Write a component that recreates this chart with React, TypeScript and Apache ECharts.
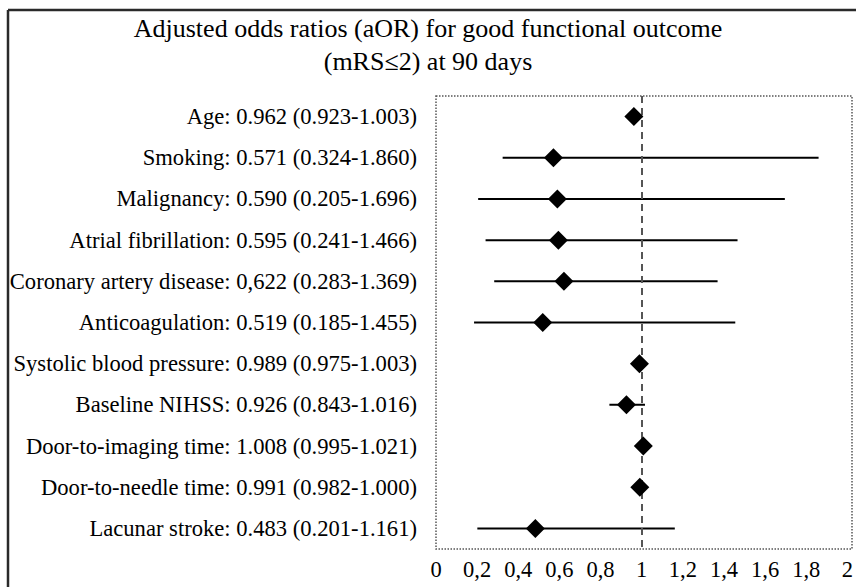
import React, { useEffect, useRef } from "react";
import * as echarts from "echarts";

const labels = [
  "Age: 0.962 (0.923-1.003)",
  "Smoking: 0.571 (0.324-1.860)",
  "Malignancy: 0.590 (0.205-1.696)",
  "Atrial fibrillation: 0.595 (0.241-1.466)",
  "Coronary artery disease: 0,622 (0.283-1.369)",
  "Anticoagulation: 0.519 (0.185-1.455)",
  "Systolic blood pressure: 0.989 (0.975-1.003)",
  "Baseline NIHSS: 0.926 (0.843-1.016)",
  "Door-to-imaging time: 1.008 (0.995-1.021)",
  "Door-to-needle time: 0.991 (0.982-1.000)",
  "Lacunar stroke: 0.483 (0.201-1.161)",
];
const oddsRatio = [0.962, 0.571, 0.59, 0.595, 0.622, 0.519, 0.989, 0.926, 1.008, 0.991, 0.483];
const lower = [0.923, 0.324, 0.205, 0.241, 0.283, 0.185, 0.975, 0.843, 0.995, 0.982, 0.201];
const upper = [1.003, 1.86, 1.696, 1.466, 1.369, 1.455, 1.003, 1.016, 1.021, 1.0, 1.161];
const xTicks = { min: 0, max: 2, interval: 0.2 };
const titleText = "Adjusted odds ratios (aOR) for good functional outcome\n(mRS\u22642) at 90 days";

const FONT = "Liberation Serif";

export default function App() {
  const ref = useRef<HTMLDivElement>(null);
  useEffect(() => {
    if (!ref.current) return;
    const chart = echarts.init(ref.current, undefined, { renderer: "svg" });
    const gridLeft = 436;
    const gridTop = 96;
    const gridRight = 4;
    const gridBottom = 38;
    const W = 856;
    const H = 587;
    chart.setOption({
      animation: false,
      backgroundColor: "#fff",
      textStyle: { fontFamily: FONT },
      title: {
        text: titleText,
        left: "center",
        top: 12,
        padding: 0,
        textStyle: {
          fontFamily: FONT,
          fontSize: 26,
          fontWeight: "normal",
          color: "#000",
          lineHeight: 33,
        },
      },
      grid: { left: gridLeft, top: gridTop, right: gridRight, bottom: gridBottom },
      xAxis: {
        type: "value",
        min: xTicks.min,
        max: xTicks.max,
        interval: xTicks.interval,
        axisLine: { show: false },
        axisTick: { show: false },
        splitLine: { show: false },
        axisLabel: {
          fontFamily: FONT,
          fontSize: 22.5,
          color: "#000",
          margin: 9,
          showMaxLabel: true,
          showMinLabel: true,
          formatter: (v: number) => String(Math.round(v * 10) / 10).replace(".", ","),
        },
      },
      yAxis: {
        type: "category",
        data: labels,
        inverse: true,
        axisLine: { show: false },
        axisTick: { show: false },
        splitLine: { show: false },
        axisLabel: {
          fontFamily: FONT,
          fontSize: 22.6,
          color: "#000",
          margin: 19,
        },
      },
      graphic: [
        {
          type: "rect",
          shape: { x: gridLeft, y: gridTop, width: W - gridLeft - gridRight, height: H - gridTop - gridBottom },
          style: { fill: "none", stroke: "#555", lineWidth: 1.5, lineDash: [1.5, 1.5] },
          silent: true,
          z: 1,
        },
        {
          type: "line",
          shape: { x1: 8, y1: 10, x2: 860, y2: 10 },
          style: { stroke: "#2a2a2a", lineWidth: 2.5 },
          silent: true,
        },
        {
          type: "line",
          shape: { x1: 8, y1: 10, x2: 8, y2: 600 },
          style: { stroke: "#2a2a2a", lineWidth: 2.5 },
          silent: true,
        },
      ],
      series: [
        {
          type: "custom",
          z: 2,
          encode: { x: 0, y: 1 },
          data: labels.map((_, i) => [lower[i], i, upper[i]]),
          renderItem: (params: any, api: any) => {
            const idx = api.value(1);
            const p1 = api.coord([api.value(0), idx]);
            const p2 = api.coord([api.value(2), idx]);
            return {
              type: "line",
              shape: { x1: p1[0], y1: p1[1], x2: p2[0], y2: p2[1] },
              style: { stroke: "#000", lineWidth: 2 },
            };
          },
        },
        {
          type: "scatter",
          z: 5,
          symbol: "diamond",
          symbolSize: 19,
          itemStyle: { color: "#000", opacity: 1 },
          data: labels.map((_, i) => [oddsRatio[i], i]),
          markLine: {
            silent: true,
            symbol: "none",
            z: 3,
            label: { show: false },
            lineStyle: { color: "#555", type: [7, 5], width: 2, opacity: 1 },
            data: [{ xAxis: 1 }],
          },
        },
      ],
    });
    return () => chart.dispose();
  }, []);
  return (
    <div
      ref={ref}
      style={{ position: "fixed", left: 0, top: 0, width: 856, height: 587 }}
    />
  );
}
